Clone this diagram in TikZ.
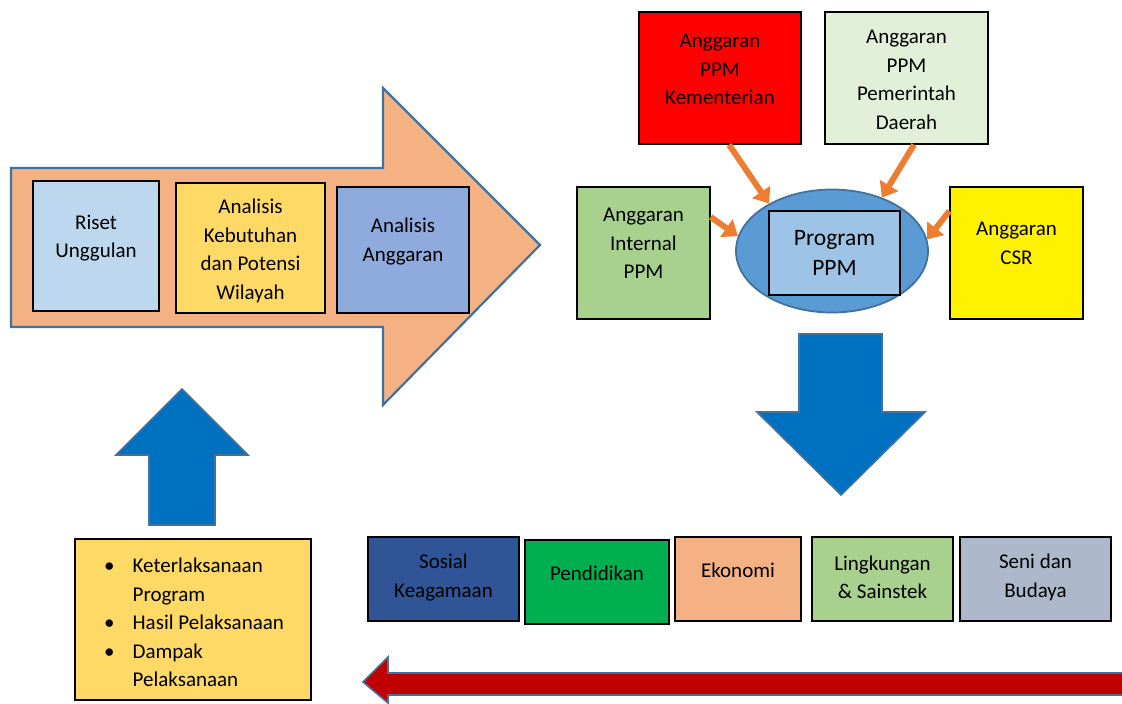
\documentclass[tikz,border=0pt]{standalone}
\usepackage{fontspec}
\setmainfont{Carlito}
\usetikzlibrary{arrows.meta,shapes.geometric}
\definecolor{arrowedge}{HTML}{41719C}
\definecolor{peach}{HTML}{F4B183}
\definecolor{lightblue}{HTML}{BDD7EE}
\definecolor{gold}{HTML}{FFD966}
\definecolor{midblue}{HTML}{8FAADC}
\definecolor{paleGreen}{HTML}{E2F0D9}
\definecolor{leafGreen}{HTML}{A9D18E}
\definecolor{skyblue}{HTML}{5B9BD5}
\definecolor{paleblue}{HTML}{9DC3E6}
\definecolor{orangeline}{HTML}{ED7D31}
\definecolor{strongblue}{HTML}{0070C0}
\definecolor{navy}{HTML}{2F5597}
\definecolor{brightgreen}{HTML}{00B050}
\definecolor{greyblue}{HTML}{ADB9CA}
\definecolor{darkred}{HTML}{C00000}
\begin{document}
\begin{tikzpicture}[x=1pt,y=-1pt,
  box/.style={draw=black,line width=1.3pt,inner sep=0pt},
  txt/.style={align=center,inner sep=0pt,yshift=-1.5pt,font=\fontsize{21}{28.5}\selectfont},
  bigtxt/.style={align=center,inner sep=0pt,font=\fontsize{23.5}{30}\selectfont},
  shapearrow/.style={draw=arrowedge,line width=1.6pt,line join=miter},
  feed/.style={draw=orangeline,line width=6pt,-{Triangle[width=21pt,length=14pt]}}
]
\useasboundingbox (0,0) rectangle (1122,704);

% big orange arrow
\draw[shapearrow,fill=peach,line width=2.2pt] (11,168) -- (383,168) -- (383,88) -- (540,245) -- (383,405) -- (383,327) -- (11,327) -- cycle;

% boxes in the arrow
\node[box,fill=lightblue,minimum width=126pt,minimum height=130pt] (riset) at (96,246) {};
\node[txt] (trise) at (96,236.5) {Riset\\Unggulan};
\node[box,fill=gold,minimum width=149pt,minimum height=130pt] (kebut) at (250.5,248) {};
\node[txt] (tkebut) at (250.5,249.5) {Analisis\\Kebutuhan\\dan Potensi\\Wilayah};
\node[box,fill=midblue,minimum width=132pt,minimum height=126pt] (angg) at (403,250) {};
\node[txt] (tangg) at (403,240) {Analisis\\Anggaran};

% budget sources
\node[box,fill=red,minimum width=162pt,minimum height=132pt] (kem) at (720,78) {};
\node[txt] (tkem) at (720,68) {Anggaran\\PPM\\Kementerian};
\node[box,fill=paleGreen,minimum width=163pt,minimum height=132pt] (pem) at (906.5,78) {};
\node[txt] (tpem) at (906.5,78.5) {Anggaran\\PPM\\Pemerintah\\Daerah};
\node[box,fill=leafGreen,minimum width=133pt,minimum height=132pt] (int) at (643.5,253) {};
\node[txt] (tint) at (643.5,242) {Anggaran\\Internal\\PPM};
\node[box,fill=yellow,minimum width=133pt,minimum height=132pt] (csr) at (1016.5,253) {};
\node[txt] (tcsr) at (1016.5,242) {Anggaran\\CSR};

% program ellipse
\node[ellipse,draw=arrowedge,line width=1.8pt,fill=skyblue,minimum width=192pt,minimum height=123pt,inner sep=0pt] (ell) at (832,251) {};
\node[box,fill=paleblue,minimum width=131pt,minimum height=84pt] (prog) at (834.5,253) {};
\node[bigtxt] (tprog) at (834.5,253) {Program\\PPM};

% orange feed arrows
\draw[feed] ([xshift=9pt]kem.south) -- (ell.143);
\draw[feed] ([xshift=7.5pt]pem.south) -- (ell.47);
\draw[feed] ([yshift=36pt]int.east) -- (ell.171);
\draw[feed] ([yshift=42pt]csr.west) -- (ell.7);

% blue down arrow
\draw[shapearrow,fill=strongblue] (799,334) -- (882,334) -- (882,412) -- (925,412) -- (841,495) -- (757,412) -- (799,412) -- cycle;

% outcome boxes
\node[box,fill=navy,minimum width=151pt,minimum height=84pt] (sos) at (443.5,579) {};
\node[txt] (tsos) at (443.5,576) {Sosial\\Keagamaan};
\node[box,fill=brightgreen,minimum width=144pt,minimum height=84pt] (pend) at (597,582) {};
\node[txt] (tpend) at (597,572) {Pendidikan};
\node[box,fill=peach,minimum width=126pt,minimum height=84pt] (eko) at (738,579) {};
\node[txt] (teko) at (738,569) {Ekonomi};
\node[box,fill=leafGreen,minimum width=141pt,minimum height=84pt] (ling) at (882.5,579) {};
\node[txt] (tling) at (882.5,576) {Lingkungan\\\&~Sainstek};
\node[box,fill=greyblue,minimum width=151pt,minimum height=84pt] (seni) at (1035.5,579) {};
\node[txt] (tseni) at (1035.5,576) {Seni dan\\Budaya};

% red arrow
\draw[shapearrow,fill=darkred] (1125,673) -- (388,673) -- (388,657) -- (363,682) -- (388,703) -- (388,695) -- (1125,695) -- cycle;

% evaluation box
\node[box,fill=gold,minimum width=236pt,minimum height=161pt] (eval) at (193,619.5) {};
\node[anchor=west,inner sep=0pt,font=\fontsize{21}{28.5}\selectfont] (teval) at (104,624) {\begin{tabular}{@{}l@{\hspace{18pt}}l@{}}\textbullet & Keterlaksanaan\\ & Program\\ \textbullet & Hasil Pelaksanaan\\ \textbullet & Dampak\\ & Pelaksanaan\end{tabular}};

% blue up arrow
\draw[shapearrow,fill=strongblue] (149,525) -- (149,455) -- (116,455) -- (182,389) -- (248,455) -- (215,455) -- (215,525) -- cycle;
\end{tikzpicture}
\end{document}
